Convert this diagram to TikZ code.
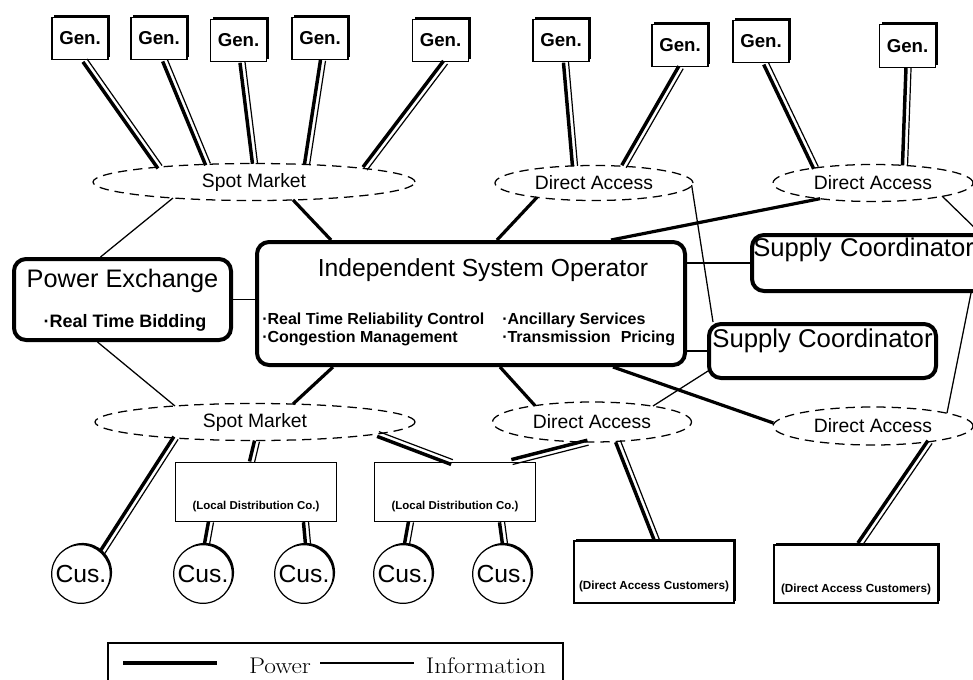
\documentclass[tikz,border=0pt]{standalone}
\usepackage{fontspec}
\setsansfont{Liberation Sans}
\usetikzlibrary{calc,shapes.geometric,shadows}

\newcommand\fsz[1]{\fontsize{#1pt}{#1pt}\selectfont}
\newcommand\widetext[1]{\scalebox{1.12}[1]{#1}}

% power link: heavy stroke on the left, light stroke on the right
\newcommand\pwrpair[2]{%
  \path #1 coordinate (pa) #2 coordinate (pb);
  \draw[pthick] ($(pa)!1.9pt!-90:(pb)$) -- ($(pb)!1.9pt!90:(pa)$);
  \draw[pthin]  ($(pa)!1.9pt!90:(pb)$) -- ($(pb)!1.9pt!-90:(pa)$);
}

\tikzset{
  shade3d/.style={general shadow={fill=black, shadow xshift=1.8pt, shadow yshift=1.8pt}},
  genbox/.style={draw, fill=white, line width=0.9pt, minimum width=42pt, minimum height=32pt,
    inner sep=0pt, shade3d, font=\sffamily\bfseries\fsz{14}},
  cusnode/.style={circle, draw, fill=white, line width=0.9pt, minimum size=44pt, inner sep=0pt,
    general shadow={fill=black, shadow xshift=1.3pt, shadow yshift=1.3pt}, font=\sffamily\fsz{18.5}},
  market/.style={ellipse, draw, dash pattern=on 7pt off 4.5pt, line width=0.95pt, inner sep=0pt,
    font=\sffamily\fsz{14.5}},
  agency/.style={draw, fill=white, rounded corners=9pt, line width=3pt, inner sep=0pt},
  ldcbox/.style={draw, fill=white, line width=0.95pt, minimum width=120.5pt, minimum height=44pt,
    inner sep=0pt, font=\sffamily\bfseries\fsz{8.6}, text height=25.5pt, text depth=0pt},
  dacbox/.style={draw, fill=white, line width=0.9pt, inner sep=0pt, shade3d,
    font=\sffamily\bfseries\fsz{8.8}},
  bullets/.style={anchor=west, align=left, inner sep=0pt,
    font=\sffamily\bfseries\fontsize{12pt}{13.5pt}\selectfont},
  legendtext/.style={anchor=base, inner sep=0pt, font=\fsz{17}},
  pthick/.style={line width=2.6pt},
  pthin/.style={line width=0.9pt},
  powerln/.style={line width=2.4pt},
  infoln/.style={line width=0.95pt},
}

\begin{document}
\begin{tikzpicture}[x=0.75pt,y=-0.75pt]
\useasboundingbox (0,0) rectangle (973,679);
\clip (0,0) rectangle (973,679);

% generators
\node[genbox] (g1) at (80,38.5) {Gen.};
\node[genbox] (g2) at (159,38.5) {Gen.};
\node[genbox] (g3) at (238.5,40.5) {Gen.};
\node[genbox] (g4) at (320,38.5) {Gen.};
\node[genbox] (g5) at (440.5,40.5) {Gen.};
\node[genbox] (g6) at (561,40.5) {Gen.};
\node[genbox] (g7) at (680,45.5) {Gen.};
\node[genbox] (g8) at (761,41.5) {Gen.};
\node[genbox] (g9) at (907.5,46) {Gen.};

% markets
\node[market, minimum width=241.5pt, minimum height=27.75pt] (spotT) at (254,182) {Spot Market};
\node[market, minimum width=148.5pt, minimum height=26.25pt] (daT) at (594,183) {Direct Access};
\node[market, minimum width=150pt, minimum height=27.75pt] (daTR) at (873,183) {Direct Access};
\node[market, minimum width=240pt, minimum height=27.75pt] (spotB) at (255,422) {Spot Market};
\node[market, minimum width=149.25pt, minimum height=30pt] (daB) at (592,422) {Direct Access};
\node[market, minimum width=150pt, minimum height=28.5pt] (daBR) at (873,426) {Direct Access};

% agencies
\node[agency, minimum width=162.75pt, minimum height=60.75pt, text height=3.25pt, text depth=22pt,
  font=\sffamily\fsz{19}] (pe) at (122.5,299.5) {Power Exchange};
\node[font=\sffamily\bfseries\fsz{13.5}, inner sep=0pt] (peB) at (125,323) {·Real Time Bidding};

\node[agency, minimum width=321pt, minimum height=92.25pt, text height=2.75pt, text depth=44pt,
  font=\sffamily\fsz{18.5}] (iso) at (471,303.5) {\hspace*{18pt}Independent System Operator};
\node[bullets] (isoL) at (262,329) {·Real Time Reliability Control\\·Congestion Management};
\node[bullets] (isoR) at (502,329) {·Ancillary Services\\·Transmission\hspace{0.35em} Pricing};

\node[agency, minimum width=178.5pt, minimum height=42pt, text height=5.5pt, text depth=16pt,
  text width=178.5pt, align=left, font=\sffamily\fsz{19.2}] (sc1) at (871,263)
  {\hspace*{1pt}Supply Coordinator};
\node[agency, minimum width=170.25pt, minimum height=40.5pt, text height=9pt, text depth=15pt,
  font=\sffamily\fsz{19.3}] (sc2) at (822.5,351) {Supply Coordinator};

% distribution companies and customers
\node[ldcbox] (ldc1) at (256,492) {(Local Distribution Co.)};
\node[ldcbox] (ldc2) at (455,492) {(Local Distribution Co.)};

\node[cusnode] (cus1) at (81,574) {Cus.};
\node[cusnode] (cus2) at (203,574) {Cus.};
\node[cusnode] (cus3) at (304,574) {Cus.};
\node[cusnode] (cus4) at (403,574) {Cus.};
\node[cusnode] (cus5) at (502,574) {Cus.};

\node[dacbox, minimum width=120pt, minimum height=46.5pt, text height=25.5pt, text depth=0pt]
  (dac1) at (654,572) {(Direct Access Customers)};
\node[dacbox, minimum width=123pt, minimum height=43.5pt, text height=27pt, text depth=0pt]
  (dac2) at (856,574) {(Direct Access Customers)};

% generator feeds
\pwrpair{($(g1.south)+(5,0)$)}{($(spotT.center)+(-94,-15)$)}
\pwrpair{($(g2.south)+(6,0)$)}{($(spotT.center)+(-46,-17.7)$)}
\pwrpair{($(g3.south)+(4,0)$)}{($(spotT.center)+(1,-18.5)$)}
\pwrpair{($(g4.south)+(3,0)$)}{($(spotT.center)+(53,-17.5)$)}
\pwrpair{($(g5.south)+(5,0)$)}{($(spotT.center)+(111,-13.4)$)}
\pwrpair{($(g6.south)+(5,0)$)}{($(daT.center)+(-19,-17)$)}
\pwrpair{($(g7.south)+(1,0)$)}{($(daT.center)+(30,-16.5)$)}
\pwrpair{($(g8.south)+(5,0)$)}{($(daTR.center)+(-57,-15.2)$)}
\pwrpair{($(g9.south)+(1,0)$)}{($(daTR.center)+(32,-17.5)$)}

% deliveries
\pwrpair{($(spotB.center)+(-79,16)$)}{(cus1.45)}
\pwrpair{($(spotB.south)+(2,0)$)}{($(ldc1.north)+(-4,0)$)}
\pwrpair{($(spotB.center)+(123,12)$)}{($(ldc2.north)+(-3,0)$)}
\pwrpair{($(daB.south)+(-4,0)$)}{($(ldc2.north)+(57,0)$)}
\pwrpair{($(daB.center)+(26,19.3)$)}{($(dac1.north)+(3,0)$)}
\pwrpair{($(daBR.center)+(57,16)$)}{($(dac2.north)+(4,0)$)}
\pwrpair{($(ldc1.south)+(-45,0)$)}{($(cus2.north)+(4,0)$)}
\pwrpair{($(ldc1.south)+(50,0)$)}{($(cus3.north)+(4,0)$)}
\pwrpair{($(ldc2.south)+(-44,0)$)}{($(cus4.north)+(4,0)$)}
\pwrpair{($(ldc2.south)+(47,0)$)}{($(cus5.north)+(3,0)$)}

% system operator ties
\draw[powerln] ($(spotT.center)+(39,17.9)$) -- ($(iso.north)+(-140,0)$);
\draw[powerln] ($(daT.center)+(-57,14.3)$) -- ($(iso.north)+(26,0)$);
\draw[powerln] ($(daTR.center)+(-53,15.7)$) -- ($(iso.north)+(140,0)$);
\draw[powerln] ($(iso.south)+(-138,0)$) -- ($(spotB.center)+(38,-18)$);
\draw[powerln] ($(iso.south)+(29,0)$) -- ($(daB.center)+(-57,-16.4)$);
\draw[powerln] ($(iso.south)+(142,0)$) -- ($(daBR.west)+(1,-3)$);

% information links
\draw[infoln] ($(pe.north)+(-22,0)$) -- ($(spotT.center)+(-81,16)$);
\draw[infoln] (pe.east) -- (pe.east -| iso.west);
\draw[infoln] ($(pe.south)+(-25,0)$) -- ($(spotB.center)+(-80,-16)$);
\draw[infoln] (iso.east |- sc1.west) -- (sc1.west);
\draw[infoln] (iso.east |- sc2.west) -- (sc2.west);
\draw[infoln] ($(daT.east)+(-2,2)$) -- ($(sc2.north west)+(6,0)$);
\draw[infoln] ($(daTR.center)+(69,13)$) -- ($(sc1.north east)+(-12,0)$);
\draw[infoln] ($(sc1.south east)+(-21,0)$) -- ($(daBR.center)+(74,-13)$);
\draw[infoln] ($(sc2.south west)+(1,-9)$) -- ($(daB.center)+(61,-16)$);

% legend
\node[draw, line width=1.1pt, minimum width=341pt, minimum height=37.5pt, inner sep=0pt]
  (legend) at (335.5,668) {};
\coordinate (lk1) at (123,663);
\coordinate (lk2) at (217,663);
\coordinate (li1) at (320,663);
\coordinate (li2) at (414,663);
\draw[line width=2.8pt] (lk1) -- (lk2);
\draw[infoln] (li1) -- (li2);
\node[legendtext] (lgP) at (280,673) {\widetext{Power}};
\node[legendtext] (lgI) at (486,673) {\widetext{Information}};
\end{tikzpicture}
\end{document}
